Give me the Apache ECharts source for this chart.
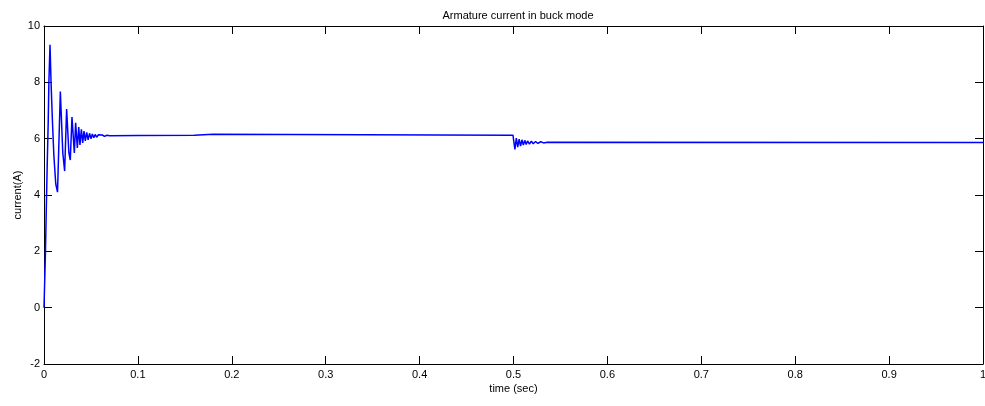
<!DOCTYPE html>
<html>
<head>
<meta charset="utf-8">
<script src="https://cdn.jsdelivr.net/npm/echarts@6/dist/echarts.min.js"></script>
<style>
html,body{margin:0;padding:0;background:#fff;}
#chart{width:985px;height:406px;}
</style>
</head>
<body>
<div id="chart"></div>
<script>
// Time (sec) samples
const timeSec = [
  0, 0.0008, 0.0015, 0.0025, 0.0035, 0.0045, 0.0052, 0.0064, 0.0075, 0.0090,
  0.0105, 0.0125, 0.0144, 0.0160, 0.0174, 0.0200, 0.0220, 0.0241, 0.0265, 0.0280,
  0.0298, 0.0323, 0.0337, 0.0355, 0.0370, 0.0383, 0.0398, 0.0412, 0.0426, 0.0440,
  0.0455, 0.0470, 0.0485, 0.0500, 0.0515, 0.0530, 0.0545, 0.0560, 0.0580, 0.0600,
  0.0620, 0.0645, 0.0670, 0.0700, 0.1000, 0.1600, 0.1620, 0.1800, 0.1820, 0.4995,
  0.5000, 0.5015, 0.5030, 0.5045, 0.5060, 0.5075, 0.5090, 0.5105, 0.5120, 0.5135,
  0.5150, 0.5170, 0.5190, 0.5210, 0.5235, 0.5260, 0.5290, 0.5320, 0.5360, 1.0000
];
// Armature current (A) at those times
const currentA = [
  0, 0, 1.9, 3.6, 5.2, 6.6, 8.0, 9.33, 8.0, 6.6,
  5.4, 4.4, 4.1, 6.0, 7.67, 5.5, 4.85, 7.05, 5.5, 5.24,
  6.77, 5.49, 6.56, 5.67, 6.41, 5.78, 6.33, 5.85, 6.27, 5.92,
  6.22, 5.96, 6.19, 6.00, 6.17, 6.03, 6.15, 6.05, 6.14, 6.07,
  6.13, 6.08, 6.12, 6.10, 6.11, 6.12, 6.16, 6.16, 6.12, 6.12,
  5.98, 5.62, 6.02, 5.70, 5.98, 5.74, 5.96, 5.77, 5.94, 5.79,
  5.92, 5.81, 5.91, 5.82, 5.90, 5.83, 5.89, 5.85, 5.87, 5.86
];
const titleText = 'Armature current in buck mode';
const xName = 'time (sec)';
const yName = 'current(A)';

const seriesData = timeSec.map((t, k) => [t, currentA[k]]);
const font = 'Liberation Sans, Arial, sans-serif';

const chart = echarts.init(document.getElementById('chart'), null, {renderer: 'canvas'});
const axisLine = {show: true, onZero: false, lineStyle: {color: '#000', width: 1}};
const tick = {show: true, inside: true, length: 8, lineStyle: {color: '#000', width: 1}};
chart.setOption({
  animation: false,
  backgroundColor: '#fff',
  title: {
    text: titleText, left: 513, top: 5, textAlign: 'center',
    textStyle: {fontSize: 11, fontWeight: 'normal', color: '#000', fontFamily: font}
  },
  grid: {left: 44, right: 2, top: 26, bottom: 42, containLabel: false, outerBoundsMode: 'none'},
  xAxis: [{
    type: 'value', min: 0, max: 1, interval: 0.1, position: 'bottom',
    name: xName, nameLocation: 'middle', nameGap: 19, nameMoveOverlap: false,
    nameTextStyle: {fontSize: 11, color: '#000', fontFamily: font},
    axisLine: axisLine, axisTick: tick, splitLine: {show: false},
    axisLabel: {fontSize: 11, color: '#000', margin: 5, fontFamily: font,
      formatter: v => String(+v.toFixed(1))}
  }, {
    type: 'value', min: 0, max: 1, interval: 0.1, position: 'top',
    axisLine: axisLine, axisTick: tick, splitLine: {show: false},
    axisLabel: {show: false}
  }],
  yAxis: [{
    type: 'value', min: -2, max: 10, interval: 2, position: 'left',
    name: yName, nameLocation: 'middle', nameGap: 21, nameRotate: 90, nameMoveOverlap: false,
    nameTextStyle: {fontSize: 11, color: '#000', fontFamily: font},
    axisLine: axisLine, axisTick: tick, splitLine: {show: false},
    axisLabel: {fontSize: 11, color: '#000', margin: 4, fontFamily: font}
  }, {
    type: 'value', min: -2, max: 10, interval: 2, position: 'right',
    axisLine: axisLine, axisTick: tick, splitLine: {show: false},
    axisLabel: {show: false}
  }],
  series: [{
    type: 'line', xAxisIndex: 0, yAxisIndex: 0,
    data: seriesData, showSymbol: false, symbol: 'none',
    lineStyle: {color: '#0000ff', width: 1.5},
    clip: true
  }]
});
</script>
</body>
</html>
